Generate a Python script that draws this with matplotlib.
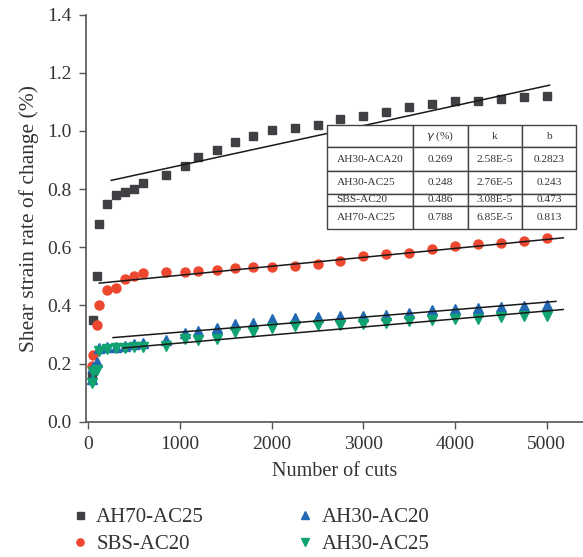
import matplotlib
matplotlib.use("Agg")
import matplotlib.pyplot as plt
import numpy as np

plt.rcParams['font.family'] = ['Liberation Serif', 'DejaVu Serif']

cuts = [40, 50, 100, 120, 200, 300, 400, 500, 600, 850, 1050, 1200, 1400, 1600,
        1800, 2000, 2250, 2500, 2750, 3000, 3250, 3500, 3750, 4000, 4250, 4500, 4750, 5000]

ah70_ac25 = [0.16, 0.35, 0.50, 0.68, 0.75, 0.78, 0.79, 0.80, 0.82, 0.85, 0.88, 0.91, 0.935, 0.963,
             0.983, 1.004, 1.011, 1.022, 1.041, 1.053, 1.064, 1.084, 1.094, 1.102, 1.104, 1.109, 1.118, 1.121]
sbs_ac20 = [0.19, 0.23, 0.333, 0.40, 0.453, 0.461, 0.49, 0.501, 0.513, 0.516, 0.516, 0.519, 0.522, 0.528,
            0.532, 0.533, 0.537, 0.542, 0.553, 0.571, 0.577, 0.581, 0.594, 0.603, 0.611, 0.616, 0.623, 0.632]
ah30_ac20 = [0.148, 0.189, 0.204, 0.252, 0.256, 0.257, 0.261, 0.267, 0.27, 0.281, 0.304, 0.313, 0.323, 0.336,
             0.338, 0.352, 0.358, 0.361, 0.364, 0.364, 0.368, 0.374, 0.384, 0.389, 0.391, 0.395, 0.397, 0.401]
ah30_ac25 = [0.132, 0.172, 0.178, 0.244, 0.249, 0.254, 0.255, 0.258, 0.256, 0.26, 0.284, 0.282, 0.284, 0.31,
             0.31, 0.321, 0.329, 0.333, 0.332, 0.336, 0.34, 0.345, 0.35, 0.352, 0.354, 0.359, 0.362, 0.364]

# linear fits y = k*x + b (from the table) and the range each line is drawn over
fit_names = ['AH30-ACA20', 'AH30-AC25', 'SBS-AC20', 'AH70-AC25']
fit_gamma = ['0.269', '0.248', '0.486', '0.788']
fit_k = [2.58e-5, 2.76e-5, 3.08e-5, 6.85e-5]
fit_k_text = ['2.58E-5', '2.76E-5', '3.08E-5', '6.85E-5']
fit_b = [0.2823, 0.243, 0.473, 0.813]
fit_b_text = ['0.2823', '0.243', '0.473', '0.813']
fit_start = [270, 380, 120, 250]
fit_end = [5100, 5180, 5180, 5030]

fig = plt.figure(figsize=(5.83, 5.57), dpi=100)
ax = fig.add_axes([85.7 / 583, 135.3 / 557, (583 - 85.7) / 583, (421.7 - 14.7) / 557])

ax.plot(cuts, ah70_ac25, 's', color='#3e4043', ms=6.3, label='AH70-AC25', zorder=3)
ax.plot(cuts, sbs_ac20, 'o', color='#ee4730', ms=6.5, label='SBS-AC20', zorder=3)
ax.plot(cuts, ah30_ac20, '^', color='#2169b3', ms=6.5, label='AH30-AC20', zorder=3)
ax.plot(cuts, ah30_ac25, 'v', color='#10a371', ms=6.5, label='AH30-AC25', zorder=3)

for k, b, x0, x1 in zip(fit_k, fit_b, fit_start, fit_end):
    xs = np.array([x0, x1])
    ax.plot(xs, k * xs + b, color='#1a1a1a', lw=1.1, zorder=4)

ax.set_xlim(-28, 5395)
ax.set_ylim(0, 1.4)
ax.set_xticks([0, 1000, 2000, 3000, 4000, 5000])
ax.set_yticks(np.arange(0, 1.41, 0.2))
ax.set_yticklabels(['%.1f' % v for v in np.arange(0, 1.41, 0.2)])
for s in ['top', 'right']:
    ax.spines[s].set_visible(False)
for s in ['left', 'bottom']:
    ax.spines[s].set_color('#555555')
    ax.spines[s].set_linewidth(1.2)
ax.tick_params(direction='out', length=5, width=1, color='#555555', labelsize=14,
               labelcolor='#333333', pad=5)
ax.set_xlabel('Number of cuts', fontsize=14.5, color='#333333', labelpad=7)
ax.set_ylabel('Shear strain rate of change (%)', fontsize=15.5, color='#333333', labelpad=6)

ax.legend(loc='upper left', bbox_to_anchor=(-0.071, -0.165), ncol=2, frameon=False,
          fontsize=15, columnspacing=4.35, handletextpad=0.3, labelspacing=0.35,
          handlelength=1.0, markerscale=0.8, labelcolor='#333333')

# table of fit parameters
rows = [['', r'$\mathit{\gamma}$ (%)', 'k', 'b']]
for n, g, kt, bt in zip(fit_names, fit_gamma, fit_k_text, fit_b_text):
    rows.append([n, g, kt, bt])
col_w = np.array([413.3 - 326.7, 467.7 - 413.3, 522 - 467.7, 576 - 522]) / 583
row_h = [22.7, 23.3, 23.3, 12, 22.7]
tx0 = 326.7 / 583
ty = 124.7
for r, row in enumerate(rows):
    h = row_h[r]
    x = tx0
    for c, txt in enumerate(row):
        w = col_w[c]
        rect = plt.Rectangle((x, 1 - (ty + h) / 557), w, h / 557, transform=fig.transFigure,
                             facecolor='white', edgecolor='#444444', lw=1.0, zorder=5)
        fig.add_artist(rect)
        if c == 0:
            fig.text(x + 10 / 583, 1 - (ty + h / 2) / 557, txt, ha='left', va='center',
                     fontsize=8.2, color='#333333', zorder=6)
        else:
            fig.text(x + w / 2, 1 - (ty + h / 2) / 557, txt, ha='center', va='center',
                     fontsize=8.2, color='#333333', zorder=6)
        x += w
    ty += h

fig.savefig('out.png', dpi=100)
